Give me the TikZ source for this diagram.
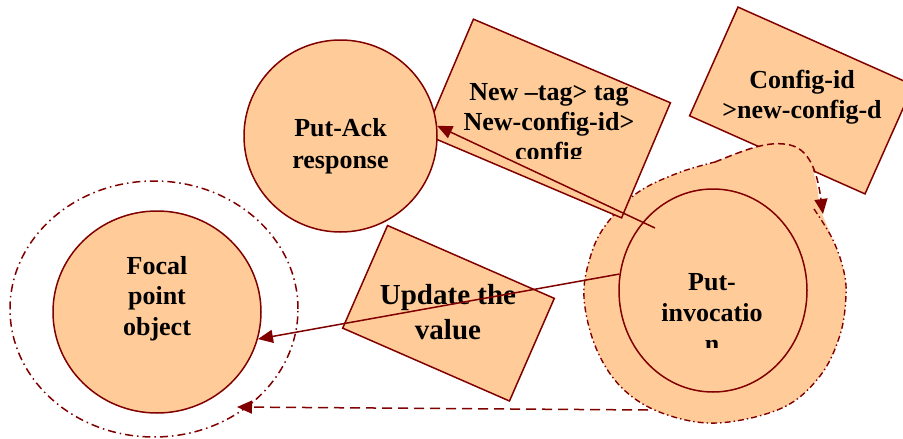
\documentclass[tikz,border=0pt]{standalone}
\usepackage{fontspec}
\setmainfont{Liberation Serif}
\usetikzlibrary{shapes.geometric,arrows.meta}
\definecolor{peach}{HTML}{FFCC99}
\definecolor{maroon}{HTML}{800000}
\begin{document}
\begin{tikzpicture}[x=1pt,y=-1pt,
  disc/.style={ellipse, draw=maroon, fill=peach, line width=1.5pt, inner sep=0pt},
  card/.style={rectangle, draw=maroon, fill=peach, line width=1.5pt, inner sep=0pt},
  lbl/.style={font=\bfseries\fontsize{26}{30.5}\selectfont, align=center, anchor=base, inner sep=0pt},
  flow/.style={draw=maroon, line width=1.5pt, -{Triangle[length=15pt,width=13pt]}},
  ringdash/.style={dash pattern=on 8pt off 4pt on 1.5pt off 4pt},
  blobdash/.style={dash pattern=on 6pt off 3pt on 1.5pt off 3pt}]
\clip (0,0) rectangle (903,439);

% focal point object and its surrounding ring
\node[disc, fill=none, ringdash, minimum width=288pt, minimum height=256pt] (ring) at (154,309) {};
\node[disc, minimum width=208pt, minimum height=202pt] (focal) at (157,312) {};

% config-id card (partly behind the invocation blob)
\node[card, minimum width=192pt, minimum height=119pt, rotate=-24] (cfg) at (801.5,100.5) {};

% invocation blob with its self loop
\fill[peach] plot[smooth cycle, tension=0.6] coordinates {
  (715,162) (752,148) (787,145) (808,160) (816,182) (821,210) (832,238)
  (843,268) (846,295) (840,335) (820,376) (782,408) (717,423) (662,413)
  (622,388) (596,348) (584,298) (590,258) (605,226) (637,193) (678,173)};
\draw[maroon, line width=1.4pt, blobdash] plot[smooth, tension=0.6] coordinates {
  (814,209) (832,238) (843,268) (846,295) (840,335) (820,376) (782,408)
  (717,423) (662,413) (622,388) (596,348) (584,298) (590,258) (605,226)
  (637,193) (678,173) (715,162)};
\coordinate (loopstart) at (715,162);
\coordinate (loopend) at (823,214);
\draw[flow, dash pattern=on 7pt off 4pt] (loopstart) .. controls (745,150) and (768,140) .. (790,145)
  .. controls (812,150) and (818,178) .. (loopend);

% remaining cards and circles
\node[card, minimum width=214pt, minimum height=125pt, rotate=-23] (tagbox) at (547.5,118.5) {};
\node[card, minimum width=182pt, minimum height=112pt, rotate=-23.6] (upd) at (448.5,313.25) {};
\node[disc, minimum width=193pt, minimum height=192pt] (ack) at (340.5,136) {};
\node[disc, minimum width=188pt, minimum height=203pt] (inv) at (713,290.5) {};

% labels (anchored at the baseline of their last line)
\node[lbl] (focaltxt) at (157,335) {Focal\\point\\object};
\node[lbl, font=\bfseries\fontsize{26}{32}\selectfont] (acktxt) at (340.5,168) {Put-Ack\\response};
\node[lbl, font=\bfseries\fontsize{26}{30}\selectfont] (cfgtxt) at (802,118) {Config-id\\>new-config-d};
\node[lbl, font=\bfseries\fontsize{29}{35}\selectfont] (updtxt) at (448,339) {Update the\\value};
\begin{scope}
  \clip (420,0) rectangle (690,158);
  \node[lbl, font=\bfseries\fontsize{26}{30}\selectfont] (tagtxt) at (549,160) {New –tag> tag\\New-config-id>\\config};
\end{scope}
\begin{scope}
  \clip (630,240) rectangle (800,347);
  \node[lbl, font=\bfseries\fontsize{26}{31}\selectfont] (invtxt) at (712,352) {Put-\\invocatio\\n};
\end{scope}

% connectors
\coordinate (ackfrom) at (655,228);
\draw[flow] (ackfrom) -- (ack.6);
\draw[flow] (inv.170) -- (focal.-15);
\coordinate (blobout) at (648,410);
\coordinate (ringin) at (237,407);
\draw[flow, dash pattern=on 10pt off 6pt] (blobout) -- (ringin);
\end{tikzpicture}
\end{document}
